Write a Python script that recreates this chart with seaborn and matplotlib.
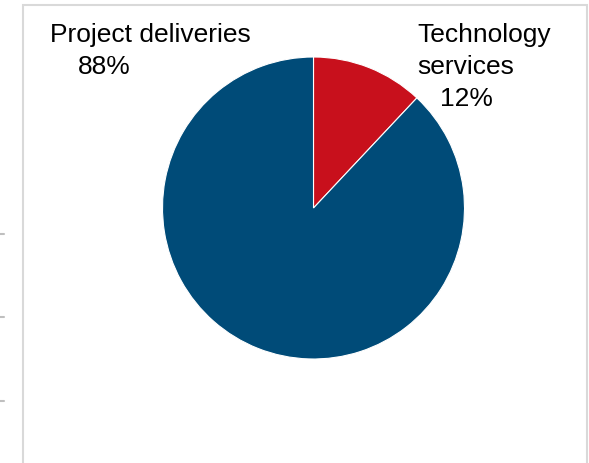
import matplotlib
matplotlib.use("Agg")
import matplotlib.pyplot as plt
from matplotlib.patches import Rectangle
from matplotlib.lines import Line2D
import seaborn as sns

# Revenue split by business segment
segments = ["Technology services", "Project deliveries"]
shares = [12, 88]
colors = ["#C8101C", "#004B78"]

sns.set_theme(style="white")
plt.rcParams["font.family"] = ["Liberation Sans", "DejaVu Sans"]

W, H = 589, 463
fig = plt.figure(figsize=(W / 100, H / 100), dpi=100)

# light frame of the chart area
fig.patches.append(Rectangle((23 / W, -0.1), (587 - 23) / W, (H - 5) / H + 0.1,
                             transform=fig.transFigure, fill=False,
                             edgecolor="#D9D9D9", linewidth=1.5))
# small tick stubs at the left edge
for yp in [234, 317, 401]:
    fig.lines.append(Line2D([0, 4 / W], [1 - yp / H, 1 - yp / H],
                            transform=fig.transFigure, color="#BFBFBF", linewidth=1.5))

cx, cy, r = 313.5, 208, 151
ax = fig.add_axes([(cx - r) / W, 1 - (cy + r) / H, 2 * r / W, 2 * r / H])
ax.pie(shares, colors=colors, startangle=90, counterclock=False,
       wedgeprops=dict(edgecolor="white", linewidth=0.8))
ax.set_xlim(-1, 1)
ax.set_ylim(-1, 1)
ax.set_aspect("equal")
ax.axis("off")

fs = 19
def put(text, x, y):
    fig.text(x / W, 1 - y / H, text, fontsize=fs, color="black",
             ha="left", va="baseline")

put("Project deliveries", 50, 42)
put(f"{shares[1]}%", 78, 73.5)
put("Technology", 417, 42)
put("services", 417, 73.5)
put(f"{shares[0]}%", 440, 105.5)

fig.savefig("out.png", dpi=100)
